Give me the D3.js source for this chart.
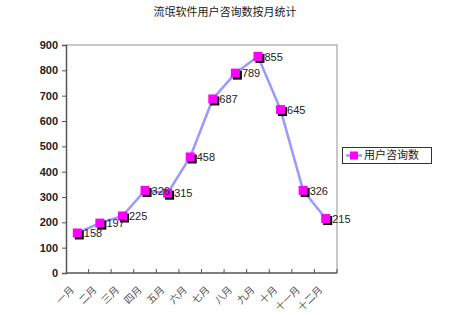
<!DOCTYPE html>
<html><head><meta charset="utf-8">
<script src="https://cdn.jsdelivr.net/npm/d3@7"></script>
<style>body{margin:0;background:#fff}</style>
</head><body>
<svg id="c" width="450" height="315"></svg>
<script>
const categories = ["一月","二月","三月","四月","五月","六月","七月","八月","九月","十月","十一月","十二月"];
const values = [158,197,225,326,315,458,687,789,855,645,326,215];
const yTicks = [0,100,200,300,400,500,600,700,800,900];
const seriesName = "用户咨询数";
const title = "流氓软件用户咨询数按月统计";

const svg = d3.select("#c");
const L = 66, R = 337, T = 45, B = 273;
const font = "Arial, 'Liberation Sans', 'Noto Sans CJK SC', sans-serif";
const x = d3.scaleBand().domain(categories).range([L, R]).padding(0);
const y = d3.scaleLinear().domain([0, 900]).range([B, T]);

svg.append("text").attr("x", 225).attr("y", 16).attr("text-anchor", "middle")
  .style("font-family", "'Noto Sans CJK SC', sans-serif").style("font-size", "11px").attr("fill", "#222").text(title);

// plot frame (top/right gray)
svg.append("path").attr("d", `M${L},${T}H${R}V${B}`).attr("fill", "none").attr("stroke", "#b8b8b8").attr("stroke-width", 1.5);

// y axis
const ya = svg.append("g").attr("transform", `translate(${L},0)`)
  .call(d3.axisLeft(y).tickValues(yTicks).tickSize(4).tickPadding(4));
ya.select(".domain").attr("stroke", "#555").attr("stroke-width", 1.5);
ya.selectAll(".tick line").attr("stroke", "#555");
ya.selectAll("text").style("font-family", font).style("font-size", "11px").style("font-weight", "bold").attr("fill", "#222");

// x axis
const xa = svg.append("g").attr("transform", `translate(0,${B})`);
xa.append("line").attr("x1", L).attr("x2", R).attr("stroke", "#555").attr("stroke-width", 1.5);
const bounds = categories.map(c => x(c)).slice(1).concat([R]);
xa.selectAll("line.tk").data(bounds).join("line").attr("class", "tk")
  .attr("x1", d => d).attr("x2", d => d).attr("y1", 0).attr("y2", -4).attr("stroke", "#555");
xa.selectAll("text").data(categories).join("text")
  .attr("transform", d => `translate(${x(d) + x.bandwidth()/2 - 5},15) rotate(-45)`)
  .attr("text-anchor", "end").attr("dy", "0.35em")
  .style("font-family", "'Noto Sans CJK SC', sans-serif").style("font-size", "10px").attr("fill", "#555").text(d => d);

// line
const cx = (d, i) => x(categories[i]) + x.bandwidth()/2;
const line = d3.line().x((d, i) => cx(d, i)).y(d => y(d));
svg.append("path").datum(values).attr("d", line).attr("fill", "none").attr("stroke", "#9999ff").attr("stroke-width", 2.5);

// markers
const ms = 9;
const g = svg.append("g");
g.selectAll("rect.sh").data(values).join("rect").attr("class", "sh")
  .attr("x", (d, i) => cx(d, i) - ms/2 + 2).attr("y", d => y(d) - ms/2 + 2)
  .attr("width", ms).attr("height", ms).attr("fill", "#000");
g.selectAll("rect.mk").data(values).join("rect").attr("class", "mk")
  .attr("x", (d, i) => cx(d, i) - ms/2).attr("y", d => y(d) - ms/2)
  .attr("width", ms).attr("height", ms).attr("fill", "#ff00ff");
g.selectAll("text").data(values).join("text")
  .attr("x", (d, i) => cx(d, i) + 6.5).attr("y", d => y(d)).attr("dy", "0.38em")
  .style("font-family", font).style("font-size", "11px").attr("fill", "#222").text(d => d);

// legend
const lg = svg.append("g");
lg.append("rect").attr("x", 342.5).attr("y", 147.5).attr("width", 89).attr("height", 16)
  .attr("fill", "#fff").attr("stroke", "#333");
lg.append("line").attr("x1", 346).attr("x2", 362).attr("y1", 155.5).attr("y2", 155.5).attr("stroke", "#9999ff").attr("stroke-width", 2.5);
lg.append("rect").attr("x", 350).attr("y", 151.5).attr("width", 8).attr("height", 8).attr("fill", "#ff00ff");
lg.append("text").attr("x", 364).attr("y", 155.5).attr("dy", "0.36em")
  .style("font-family", "'Noto Sans CJK SC', sans-serif").style("font-size", "11px").attr("fill", "#222").text(seriesName);
</script>
</body></html>
